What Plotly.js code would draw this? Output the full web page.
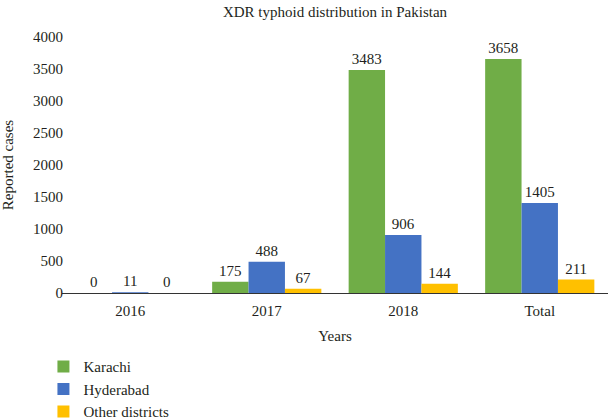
<!DOCTYPE html>
<html>
<head>
<meta charset="utf-8">
<script src="https://cdn.plot.ly/plotly-3.0.1.min.js"></script>
<style>html,body{margin:0;padding:0;background:#fff}#chart{width:610px;height:419px}</style>
</head>
<body>
<div id="chart"></div>
<script>
const categories = ["2016", "2017", "2018", "Total"];
const karachi = [0, 175, 3483, 3658];
const hyderabad = [11, 488, 906, 1405];
const otherDistricts = [0, 67, 144, 211];
const yTicks = [0, 500, 1000, 1500, 2000, 2500, 3000, 3500, 4000];

const FONT = "Liberation Serif";
const TXT = "#231f20";
const F = {family: FONT, size: 15, color: TXT};

function series(name, vals, color) {
  return {
    type: "bar", name: name, x: categories, y: vals,
    marker: {color: color},
    text: vals.map(String), textposition: "outside",
    textfont: F,
    cliponaxis: false, hoverinfo: "skip"
  };
}

const data = [
  series("Karachi", karachi, "#70ad47"),
  series("Hyderabad", hyderabad, "#4472c4"),
  series("Other districts", otherDistricts, "#ffc000")
];

const layout = {
  width: 610, height: 419,
  margin: {l: 62, r: 2, t: 37, b: 125.5, autoexpand: false},
  paper_bgcolor: "#fff", plot_bgcolor: "#fff",
  font: F,
  title: {text: "XDR typhoid distribution in Pakistan", font: F,
          x: 0.5, xref: "paper", y: 0.985, yref: "container", yanchor: "top"},
  barmode: "group", bargap: 0.2, bargroupgap: 0,
  xaxis: {type: "category", showline: true, linecolor: "#333", linewidth: 1,
          ticks: "", showgrid: false, zeroline: false, automargin: false,
          tickfont: F, ticklabelstandoff: 4,
          title: {text: "Years", font: F, standoff: 12}},
  yaxis: {range: [0, 4000], tickvals: yTicks, ticktext: yTicks.map(String),
          showgrid: false, zeroline: false, showline: false, ticks: "", automargin: false,
          tickfont: F, ticklabelstandoff: -2,
          title: {text: "Reported cases", font: F, standoff: 16}},
  showlegend: true,
  legend: {orientation: "v", x: -0.034, xanchor: "left", y: 0.164, yref: "container", yanchor: "top",
           font: F, tracegroupgap: 0,
           bgcolor: "rgba(0,0,0,0)", traceorder: "normal"}
};

Plotly.newPlot("chart", data, layout, {displayModeBar: false, staticPlot: true});
</script>
</body>
</html>
